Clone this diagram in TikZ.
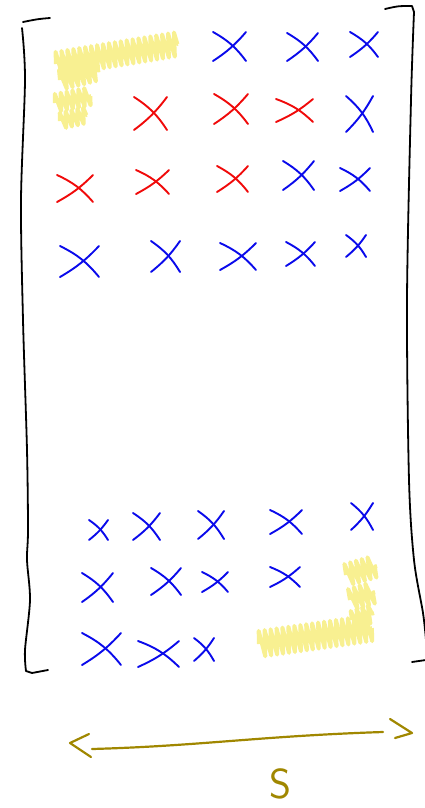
\documentclass[tikz,border=0pt]{standalone}
\usetikzlibrary{decorations.pathmorphing}
\definecolor{xblue}{RGB}{10,10,235}
\definecolor{xred}{RGB}{240,10,10}
\definecolor{hly}{RGB}{248,240,145}
\definecolor{golden}{RGB}{160,135,0}
\tikzset{
  markstroke/.style={line width=1.9pt, line cap=round},
  bluex/.style={markstroke, xblue},
  redx/.style={markstroke, xred},
  bracketline/.style={line width=1.8pt, line cap=round, line join=round, black},
  hl/.style={hly, line width=4pt, line join=round, decorate,
     decoration={zigzag, segment length=6pt, amplitude=#1}},
  hl/.default=9pt,
  arrowline/.style={golden, line width=2.2pt, line cap=round, line join=round},
}
\newcommand\crossmk[5]{%
  \draw[#1] (#2,#4) to[bend left=12] (#3,#5);
  \draw[#1] (#2,#5) to[bend right=8] (#3,#4);
}
\begin{document}
\begin{tikzpicture}[x=1pt,y=-1pt]
\useasboundingbox (0,0) rectangle (425,808);
% highlights top-left
\draw[hl=12pt] (56,64) -- (178,44);
\draw[hl=10pt] (60,80) -- (100,70);
\draw[hl=9pt] (55,103) -- (91,96);
\draw[hl=8pt] (60,121) -- (87,115);
% highlights bottom-right
\draw[hl=13pt] (259,644) -- (372,628);
\draw[hl=11pt] (346,575) -- (377,566);
\draw[hl=11pt] (350,600) -- (375,592);
\draw[hl=9pt] (352,620) -- (374,613);
% brackets
\draw[bracketline] (50,18) .. controls (38,19) .. (23,22);
\draw[bracketline] plot[smooth] coordinates {(22,28) (25,80) (21,200) (23,320) (27,450) (28,530) (27,560) (30,600) (25,650) (26,671)} -- (32,673) .. controls (40,672) .. (48,670);
\draw[bracketline] (385,9) .. controls (398,6) .. (412,6) -- (414,12);
\draw[bracketline] plot[smooth] coordinates {(414,12) (411,100) (407,300) (409,480) (414,560) (423,613) (426,640)};
\draw[bracketline] (412,662) -- (426,660);
% crosses top
\crossmk{bluex}{213}{246}{32}{61}
\crossmk{bluex}{287}{318}{33}{61}
\crossmk{bluex}{350}{378}{32}{57}
\crossmk{redx}{134}{167}{97}{130}
\crossmk{redx}{214}{248}{94}{124}
\crossmk{redx}{276}{313}{99}{122}
\crossmk{bluex}{346}{373}{96}{132}
\crossmk{redx}{57}{93}{175}{202}
\crossmk{redx}{136}{169}{170}{194}
\crossmk{redx}{217}{248}{166}{192}
\crossmk{bluex}{283}{314}{161}{190}
\crossmk{bluex}{340}{370}{168}{191}
\crossmk{bluex}{60}{99}{246}{277}
\crossmk{bluex}{151}{180}{241}{272}
\crossmk{bluex}{220}{256}{243}{270}
\crossmk{bluex}{286}{315}{242}{266}
\crossmk{bluex}{346}{366}{235}{257}
% crosses bottom
\crossmk{bluex}{89}{108}{520}{540}
\crossmk{bluex}{133}{160}{513}{540}
\crossmk{bluex}{198}{224}{511}{539}
\crossmk{bluex}{270}{302}{510}{534}
\crossmk{bluex}{351}{373}{503}{530}
\crossmk{bluex}{82}{113}{573}{602}
\crossmk{bluex}{151}{181}{568}{595}
\crossmk{bluex}{202}{228}{572}{592}
\crossmk{bluex}{270}{300}{567}{587}
\crossmk{bluex}{82}{121}{633}{665}
\crossmk{bluex}{138}{179}{641}{667}
\crossmk{bluex}{194}{214}{638}{661}
% double arrow
\coordinate (aL) at (92,749);
\coordinate (aR) at (383,732);
\draw[arrowline] (aL) .. controls (200,746) and (260,736) .. (aR);
\draw[arrowline] (89,734) -- (70,743) -- (91,757);
\draw[arrowline] (390,719) -- (412,733) -- (395,738);
\node[text=golden, font=\sffamily\fontsize{42}{42}\selectfont, inner sep=0pt, anchor=base] (slabel) at (280,798) {S};
\end{tikzpicture}
\end{document}
